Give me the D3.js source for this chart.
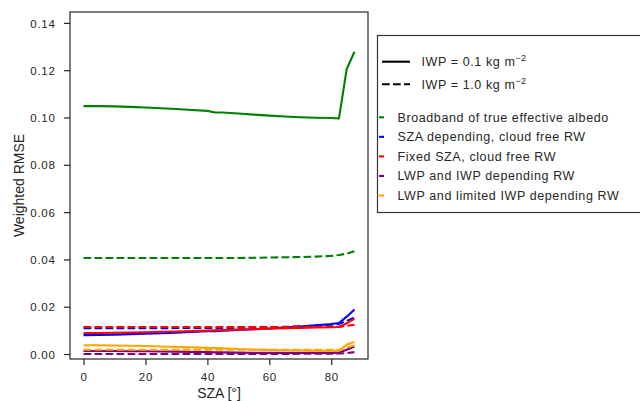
<!DOCTYPE html>
<html><head><meta charset="utf-8">
<script src="https://cdn.jsdelivr.net/npm/d3@7"></script>
<style>body{margin:0;background:#fff}svg{display:block;font-family:"Liberation Sans",Arial,sans-serif}</style>
</head><body><svg id="c" width="640" height="401"></svg>
<script>
const xs = [0,5,10,15,20,25,30,35,40,42.5,45,50,55,60,65,70,75,80,82.5,85,87.5];
const greenSolid = [0.1048,0.1048,0.1047,0.1045,0.1042,0.1039,0.1036,0.1032,0.1028,0.1021,0.1021,0.1017,0.1012,0.1008,0.1004,0.1001,0.0999,0.0998,0.0996,0.1205,0.1278];
const greenDashed = [0.0406,0.0406,0.0406,0.0406,0.0406,0.0406,0.0406,0.0406,0.0406,0.0406,0.0406,0.0406,0.0407,0.0408,0.0409,0.0410,0.0412,0.0415,0.0419,0.0424,0.0435];
const blueSolid = [0.0080,0.0081,0.0082,0.0084,0.0086,0.0088,0.0090,0.0093,0.0096,0.0097,0.0099,0.0102,0.0105,0.0108,0.0112,0.0116,0.0121,0.0127,0.0131,0.0158,0.0188];
const blueDashed = [0.0109,0.0109,0.0109,0.0109,0.0109,0.0109,0.0110,0.0110,0.0110,0.0110,0.0110,0.0111,0.0112,0.0113,0.0115,0.0117,0.0120,0.0124,0.0127,0.0140,0.0155];
const redSolid = [0.0089,0.0089,0.0090,0.0091,0.0092,0.0094,0.0095,0.0097,0.0099,0.0100,0.0101,0.0103,0.0105,0.0107,0.0109,0.0110,0.0112,0.0113,0.0114,0.0130,0.0150];
const redDashed = [0.0114,0.0114,0.0114,0.0114,0.0114,0.0114,0.0114,0.0114,0.0114,0.0114,0.0114,0.0114,0.0114,0.0114,0.0114,0.0114,0.0115,0.0115,0.0115,0.0119,0.0124];
const purpleSolid = [0.0013,0.0013,0.0013,0.0012,0.0012,0.0011,0.0010,0.0009,0.0008,0.0007,0.0007,0.0006,0.0005,0.0005,0.0005,0.0005,0.0005,0.0005,0.0006,0.0018,0.0032];
const purpleDashed = [0.0000,0.0000,0.0000,0.0000,0.0000,0.0000,0.0000,0.0000,0.0000,0.0000,0.0000,0.0000,0.0000,0.0000,0.0000,0.0001,0.0001,0.0001,0.0002,0.0004,0.0008];
const orangeSolid = [0.0037,0.0037,0.0036,0.0035,0.0034,0.0032,0.0030,0.0028,0.0026,0.0025,0.0024,0.0021,0.0019,0.0017,0.0016,0.0015,0.0014,0.0014,0.0014,0.0040,0.0051];
const orangeDashed = [0.0018,0.0018,0.0018,0.0018,0.0018,0.0018,0.0018,0.0018,0.0018,0.0018,0.0018,0.0018,0.0018,0.0018,0.0018,0.0018,0.0018,0.0018,0.0018,0.0028,0.0036];
const xTicks = [0,20,40,60,80];
const yTicks = [0,0.02,0.04,0.06,0.08,0.10,0.12,0.14];
const seriesNames = ["Broadband of true effective albedo","SZA depending, cloud free RW","Fixed SZA, cloud free RW","LWP and IWP depending RW","LWP and limited IWP depending RW"];
const seriesColors = ["#008000","#0000ff","#ff0000","#800080","#ffa500"];
const solidSets = [greenSolid, blueSolid, redSolid, purpleSolid, orangeSolid];
const dashedSets = [greenDashed, blueDashed, redDashed, purpleDashed, orangeDashed];
const styleLabels = ["IWP = 0.1 kg m", "IWP = 1.0 kg m"];

const svg = d3.select("#c");
const L=70, R=368, T=12, B=359;
const x = d3.scaleLinear().domain([-4.375, 91.875]).range([L, R]);
const y = d3.scaleLinear().domain([-0.0021, 0.1446]).range([B, T]);
const ink = "#262626";
const FONT = "'Liberation Sans', Arial, sans-serif";

const g = svg.append("g");
const line = d3.line().x(d=>x(d[0])).y(d=>y(d[1]));
const dash = "7.7,3.3";
seriesColors.forEach((c,i)=>{
  g.append("path").datum(xs.map((v,k)=>[v,dashedSets[i][k]])).attr("d",line)
    .attr("fill","none").attr("stroke",c).attr("stroke-width",2.1).attr("stroke-dasharray",dash);
  g.append("path").datum(xs.map((v,k)=>[v,solidSets[i][k]])).attr("d",line)
    .attr("fill","none").attr("stroke",c).attr("stroke-width",2.1).attr("stroke-linejoin","round");
});

// axes
const xa = svg.append("g").attr("transform",`translate(0,${B})`)
  .call(d3.axisBottom(x).tickValues(xTicks).tickSize(6).tickFormat(d3.format("d")));
const ya = svg.append("g").attr("transform",`translate(${L},0)`)
  .call(d3.axisLeft(y).tickValues(yTicks).tickSize(6).tickFormat(d3.format(".2f")));
[xa,ya].forEach(a=>{
  a.select(".domain").remove();
  a.selectAll("line").attr("stroke",ink).attr("stroke-width",1.2);
  a.selectAll("text").attr("fill",ink).style("font-size","11.5px").style("letter-spacing","0.7px")
    .style("font-family",FONT);
});
xa.selectAll("text").attr("y",22).attr("dy",null);
ya.selectAll("text").attr("x",-14.5).attr("dy","0.36em");
svg.append("rect").attr("x",L).attr("y",T).attr("width",R-L).attr("height",B-T)
  .attr("fill","none").attr("stroke",ink).attr("stroke-width",1.2);

svg.append("text").attr("x",(L+R)/2).attr("y",398).attr("text-anchor","middle")
  .attr("fill",ink).style("font-size","14px").text("SZA [°]");
svg.append("text").attr("transform",`translate(24,${(T+B)/2}) rotate(-90)`).attr("text-anchor","middle")
  .attr("fill",ink).style("font-size","14px").text("Weighted RMSE");

// legend
const lg = svg.append("g");
lg.append("rect").attr("x",377.5).attr("y",35.5).attr("width",270).attr("height",177)
  .attr("fill","#fff").attr("stroke","#333").attr("stroke-width",1.2);
styleLabels.forEach((t,i)=>{
  const yy = 61.7 + i*22.6;
  lg.append("line").attr("x1",382).attr("x2",410).attr("y1",yy).attr("y2",yy)
    .attr("stroke","#000").attr("stroke-width",2.1).attr("stroke-dasharray", i? "7.7,3.3":null);
  const tx = lg.append("text").attr("x",421.5).attr("y",yy+4.5).attr("fill",ink)
    .style("font-size","12.5px").style("letter-spacing","0.6px");
  tx.append("tspan").text(t);
  tx.append("tspan").attr("dy",-5).style("font-size","9px").style("letter-spacing","0.3px").text("\u22122");
});
seriesNames.forEach((n,i)=>{
  const yy = 117.3 + i*19.55;
  lg.append("line").attr("x1",379).attr("x2",384).attr("y1",yy).attr("y2",yy)
    .attr("stroke",seriesColors[i]).attr("stroke-width",2.1);
  lg.append("text").attr("x",397.5).attr("y",yy+4.5).attr("fill",ink)
    .style("font-size","12.5px").style("letter-spacing","0.6px").text(n);
});
</script></body></html>
